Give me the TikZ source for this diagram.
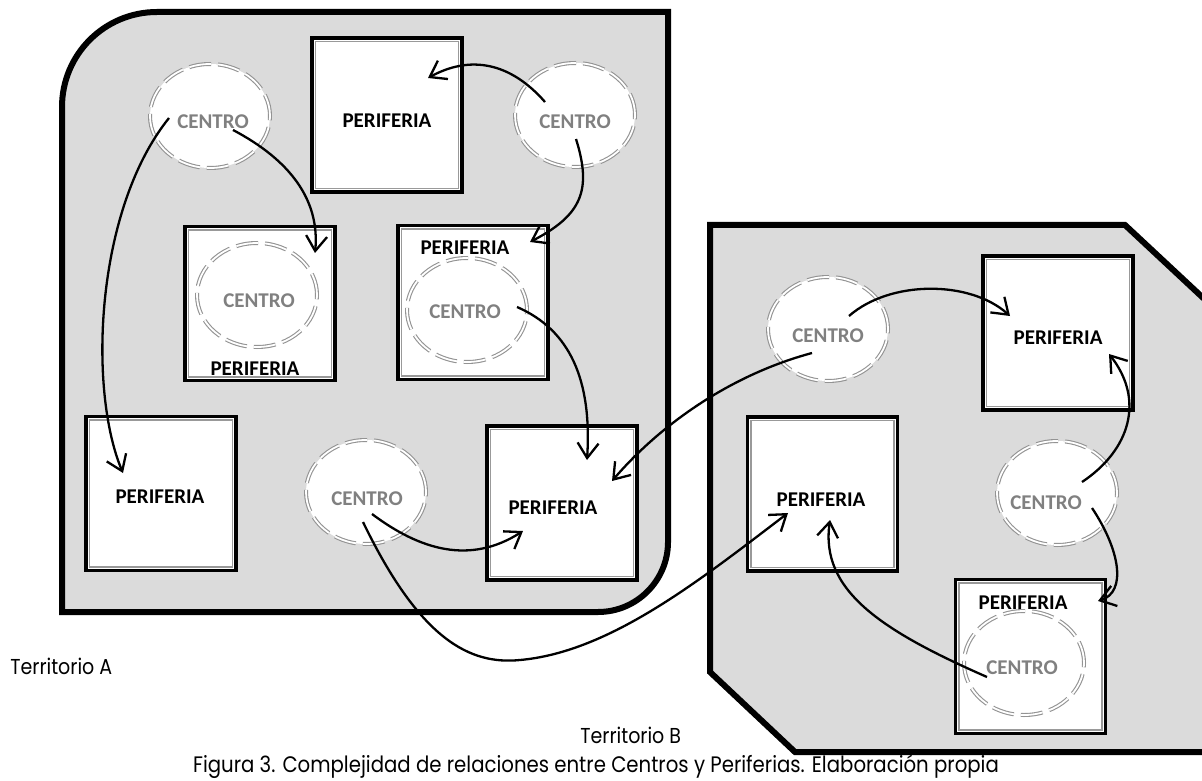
\documentclass[tikz,border=0pt]{standalone}
\usepackage{fontspec}
\setmainfont{Carlito}
\newfontfamily\capfont[FakeStretch=0.88]{Poppins}
\usetikzlibrary{arrows.meta,shapes.geometric}
\begin{document}
\begin{tikzpicture}[x=0.5pt,y=-0.5pt,
  terr/.style={draw=black,line width=3pt,fill=black!14,line join=miter},
  box/.style={rectangle,draw=black,line width=1.6pt,fill=white,
    minimum width=75pt,minimum height=77pt,inner sep=0pt,
    path picture={\draw[gray!80,line width=0.8pt]
      ([shift={(1.7pt,-1.7pt)}]path picture bounding box.north west) rectangle
      ([shift={(-1.7pt,1.7pt)}]path picture bounding box.south east);}},
  ell/.style={ellipse,draw=gray!85,line width=0.55pt,double=white,
    double distance=0.9pt,dash pattern=on 11pt off 3.5pt,fill=white,
    inner sep=0pt,minimum width=60pt,minimum height=52pt},
  lbl/.style={font=\bfseries\fontsize{10.5}{12}\selectfont,inner sep=0pt},
  cen/.style={lbl,text=black!50},
  capt/.style={font=\capfont\fontsize{10.8}{13}\selectfont,inner sep=0pt},
  arr/.style={draw=black,line width=1.15pt,-{Straight Barb[length=7.5pt,width=10.5pt]}}
]
\useasboundingbox (0,0) rectangle (1202,780);

% Territories
\draw[terr] (62,612) -- (62,107) .. controls (62,54.5) and (104.5,12) .. (157,12)
  -- (668,12) -- (668,542) .. controls (668,580.6) and (636.6,612) .. (598,612) -- cycle;
\begin{scope}
  \clip (0,0) rectangle (1202,780);
  \draw[terr] (710,225) -- (1125,225) -- (1230,323) -- (1230,752) -- (795,752) -- (710,672) -- cycle;
\end{scope}

% Periferia boxes
\node[box] (p1)  at (387,115) {};
\node[box] (s2)  at (260,303.5) {};
\node[box] (s3)  at (473,302.5) {};
\node[box] (p4)  at (161,493.5) {};
\node[box] (p5)  at (562,503) {};
\node[box] (pb1) at (1058,333) {};
\node[box] (pb2) at (822.5,494) {};
\node[box] (sb3) at (1030.5,656.5) {};

% Centro ellipses
\node[ell] (c1)  at (210,116) {};
\node[ell] (c2)  at (575,115) {};
\node[ell] (c3)  at (257,295) {};
\node[ell] (c4)  at (467,310) {};
\node[ell] (c5)  at (366,492) {};
\node[ell] (cb1) at (828,329) {};
\node[ell] (cb2) at (1057,493) {};
\node[ell] (cb3) at (1024,663) {};

% Labels
\node[lbl] (lp1)  at (387,121) {PERIFERIA};
\node[lbl] (ls2)  at (255,369) {PERIFERIA};
\node[lbl] (ls3)  at (465,248) {PERIFERIA};
\node[lbl] (lp4)  at (160,497) {PERIFERIA};
\node[lbl] (lp5)  at (553,508) {PERIFERIA};
\node[lbl] (lpb1) at (1058,338) {PERIFERIA};
\node[lbl] (lpb2) at (821,500) {PERIFERIA};
\node[lbl] (lsb3) at (1023,603) {PERIFERIA};

\node[cen] (lc1)  at (213,122) {CENTRO};
\node[cen] (lc2)  at (575,122) {CENTRO};
\node[cen] (lc3)  at (259,301) {CENTRO};
\node[cen] (lc4)  at (465,312) {CENTRO};
\node[cen] (lc5)  at (367,499) {CENTRO};
\node[cen] (lcb1) at (828,336) {CENTRO};
\node[cen] (lcb2) at (1046,503) {CENTRO};
\node[cen] (lcb3) at (1022,668) {CENTRO};

% Arrow end points
\coordinate (a1s) at (169,118);  \coordinate (a1e) at (123,473);
\coordinate (a2s) at (233,130);  \coordinate (a2e) at (315,253);
\coordinate (a3s) at (545,102);  \coordinate (a3e) at (428,78);
\coordinate (a4s) at (576,139);  \coordinate (a4e) at (530,242);
\coordinate (a5s) at (517,307);  \coordinate (a5e) at (587,460);
\coordinate (a6s) at (812,353);  \coordinate (a6e) at (612,481);
\coordinate (a7s) at (849,316);  \coordinate (a7e) at (1010,316);
\coordinate (a8s) at (1082,482); \coordinate (a8e) at (1109,354);
\coordinate (a9s) at (1092,508); \coordinate (a9e) at (1098,601);
\coordinate (a10s) at (987,677); \coordinate (a10e) at (830,520);
\coordinate (a11s) at (372,514); \coordinate (a11e) at (523,531);
\coordinate (a12s) at (363,522); \coordinate (a12m) at (520,660); \coordinate (a12e) at (788,513);

% Arrows
\draw[arr] (a1s) .. controls (95,210) and (88,390) .. (a1e);
\draw[arr] (a2s) .. controls (290,160) and (320,200) .. (a2e);
\draw[arr] (a3s) .. controls (510,62) and (470,55) .. (a3e);
\draw[arr] (a4s) .. controls (592,190) and (582,215) .. (a4e);
\draw[arr] (a5s) .. controls (570,330) and (592,380) .. (a5e);
\draw[arr] (a6s) .. controls (730,375) and (660,425) .. (a6e);
\draw[arr] (a7s) .. controls (890,280) and (970,280) .. (a7e);
\draw[arr] (a8s) .. controls (1130,450) and (1145,400) .. (a8e);
\draw[arr] (a9s) .. controls (1120,550) and (1127,592) .. (a9e);
\draw[arr] (a10s) .. controls (880,630) and (820,590) .. (a10e);
\draw[arr] (a11s) .. controls (420,550) and (470,565) .. (a11e);
\draw[arr] (a12s) .. controls (420,640) and (470,665) .. (a12m)
  .. controls (610,652) and (700,580) .. (a12e);

% Captions
\node[capt,anchor=base west] (ta) at (10,674) {Territorio A};
\node[capt,anchor=base west] (tb) at (580,743) {Territorio B};
\node[capt,anchor=base,font=\capfont\fontsize{11.2}{13}\selectfont] (cap) at (596,772.5) {Figura 3. Complejidad de relaciones entre Centros y Periferias. Elaboración propia};
\end{tikzpicture}
\end{document}
